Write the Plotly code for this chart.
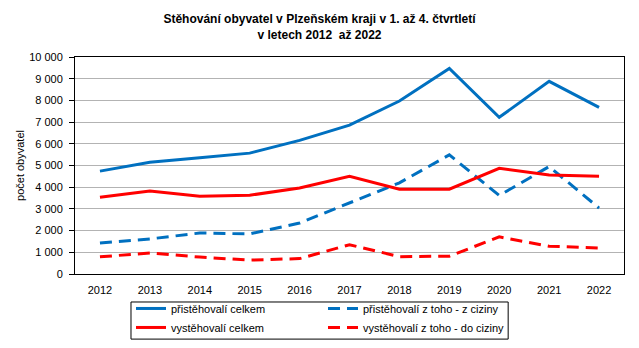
import plotly.graph_objects as go

YEARS = ["2012", "2013", "2014", "2015", "2016", "2017", "2018", "2019", "2020", "2021", "2022"]

PRISTEHOVALI = [4740, 5150, 5360, 5570, 6160, 6860, 7970, 9470, 7220, 8880, 7680]
VYSTEHOVALI = [3540, 3830, 3580, 3630, 3960, 4500, 3910, 3910, 4870, 4560, 4510]
PRIST_CIZINA = [1430, 1615, 1890, 1845, 2350, 3270, 4200, 5490, 3620, 4950, 3040]
VYST_CIZINA = [790, 970, 780, 640, 710, 1350, 800, 820, 1710, 1280, 1200]

Y_TICKS = list(range(0, 10001, 1000))

BLUE = "#0070c0"
RED = "#ff0000"
FONT = "Liberation Sans, Arial, sans-serif"

SERIES = [
    ("přistěhovalí celkem", PRISTEHOVALI, BLUE, "solid"),
    ("přistěhovalí z toho - z ciziny", PRIST_CIZINA, BLUE, "12px,7px"),
    ("vystěhovalí celkem", VYSTEHOVALI, RED, "solid"),
    ("vystěhovalí z toho - do ciziny", VYST_CIZINA, RED, "12px,7px"),
]

fig = go.Figure()
for name, values, color, dash in SERIES:
    fig.add_trace(go.Scatter(
        x=YEARS,
        y=values,
        name=name,
        mode="lines",
        line=dict(color=color, width=3, dash=dash),
        hoverinfo="x+y+name",
    ))

# legend frame (the legend itself is drawn without border, its box is narrower than the texts)
fig.add_shape(
    type="rect", xref="paper", yref="paper",
    x0=0.102, x1=0.789, y0=-0.30, y1=-0.129,
    line=dict(color="black", width=1),
    fillcolor="rgba(0,0,0,0)",
)

fig.update_layout(
    width=639,
    height=348,
    margin=dict(l=75, r=15, t=57, b=74, autoexpand=False),
    paper_bgcolor="white",
    plot_bgcolor="white",
    separators=", ",
    font=dict(family=FONT, size=11, color="black"),
    title=dict(
        text="<b>Stěhování obyvatel v Plzeňském kraji v 1. až 4. čtvrtletí</b><br><b>v letech 2012 \u00a0až 2022</b>",
        x=0.5,
        xanchor="center",
        y=0.934,
        yanchor="top",
        font=dict(family=FONT, size=12, color="black"),
    ),
    showlegend=True,
    legend=dict(
        orientation="h",
        x=0.102,
        xanchor="left",
        y=-0.092,
        yanchor="top",
        entrywidth=147,
        borderwidth=0,
        bgcolor="rgba(0,0,0,0)",
        font=dict(family=FONT, size=11, color="black"),
        traceorder="normal",
    ),
)

fig.update_xaxes(
    type="category",
    range=[-0.5, 10.5],
    showline=True,
    linecolor="black",
    linewidth=1,
    mirror=True,
    showgrid=False,
    ticks="",
    ticklabelstandoff=6,
    tickfont=dict(size=11),
    automargin=False,
)

fig.update_yaxes(
    range=[0, 10000],
    tickvals=Y_TICKS,
    tickformat=",d",
    showline=True,
    linecolor="black",
    linewidth=1,
    mirror=True,
    showgrid=True,
    gridcolor="#b3b3b3",
    gridwidth=1,
    zeroline=False,
    ticks="outside",
    ticklen=5,
    tickcolor="black",
    ticklabelstandoff=4,
    tickfont=dict(size=11),
    automargin=False,
    title=dict(text="počet obyvatel", font=dict(size=11), standoff=2),
)

# the page keeps the browser's default body margin otherwise
fig.write_html(
    "out.html",
    config={"displayModeBar": False},
    post_script="document.body.style.margin = '0px';",
)
